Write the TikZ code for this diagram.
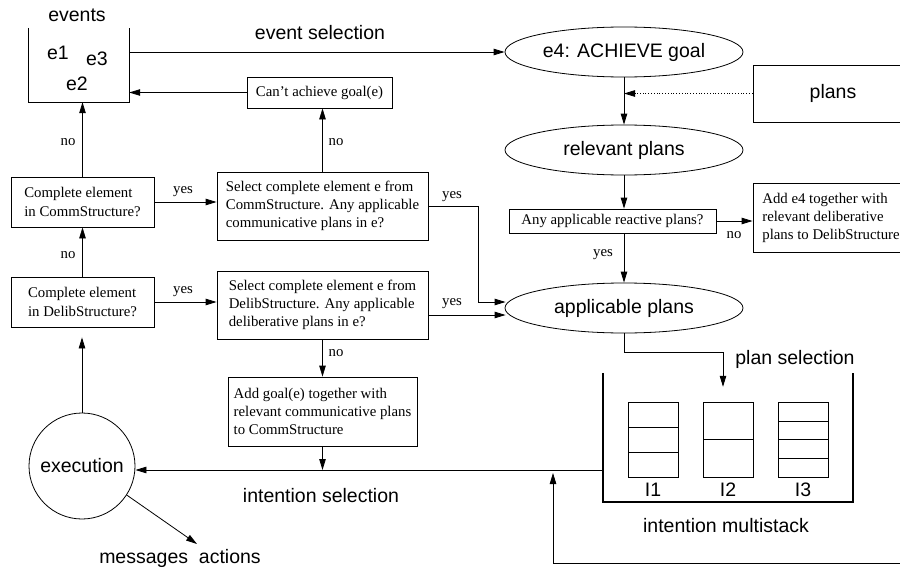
\documentclass[tikz,border=0pt]{standalone}
\usepackage{fontspec}
\setmainfont{Liberation Serif}
\newfontfamily\sff{Liberation Sans}
\usetikzlibrary{arrows.meta,shapes.geometric}
\begin{document}
\begin{tikzpicture}[x=1pt,y=-1pt,
  >={Triangle[length=11pt,width=6.5pt]},
  box/.style={draw, line width=0.8pt, inner sep=0pt, align=left,
    font=\fontsize{14.8}{18}\selectfont},
  lbl/.style={inner sep=0pt, font=\fontsize{14.8}{18}\selectfont},
  sans/.style={inner sep=0pt, font=\sff\fontsize{19.5}{23}\selectfont},
  ell/.style={draw, ellipse, line width=0.8pt, minimum width=238pt,
    minimum height=50pt, inner sep=0pt, font=\sff\fontsize{19.5}{23}\selectfont},
  conn/.style={line width=0.8pt, ->},
  wall/.style={line width=2.5pt},
  cell/.style={line width=0.8pt}]
\clip (0,0) rectangle (900,570);
% events container
\node[minimum width=100pt, minimum height=74pt, inner sep=0pt] (ev) at (79,65) {};
\draw[line width=0.8pt] (ev.north west) -- (ev.south west) -- (ev.south east) -- (ev.north east);
\node[sans] (evl) at (77,15) {events};
\node[sans] (e1) at (58,53) {e1};
\node[sans] (e3) at (97,59) {e3};
\node[sans] (e2) at (77,84) {e2};
% ellipses
\node[ell] (e4) at (624,52) {e4: ACHIEVE goal};
\node[ell] (rel) at (624,150) {relevant plans};
\node[ell] (app) at (624,308) {applicable plans};
% boxes
\node[box, minimum width=145pt, minimum height=31pt] (can) at (319.5,92.5) {Can’t achieve goal(e)};
\node[box, minimum width=211pt, minimum height=68pt] (selComm) at (322.5,206)
  {Select complete element e from\\CommStructure. Any applicable\\communicative plans in e?};
\node[box, minimum width=211pt, minimum height=68pt] (selDelib) at (322.5,305)
  {Select complete element e from\\DelibStructure. Any applicable\\deliberative plans in e?};
\node[box, minimum width=143pt, minimum height=50pt, font=\fontsize{14.8}{18.5}\selectfont] (compComm) at (82.5,202)
  {Complete element\\in CommStructure?};
\node[box, minimum width=143pt, minimum height=50pt, font=\fontsize{14.8}{18.5}\selectfont] (compDelib) at (82.5,302)
  {Complete element\\in DelibStructure?};
\node[box, minimum width=189pt, minimum height=69pt] (addGoal) at (322.5,411.5)
  {Add goal(e) together with\\relevant communicative plans\\to CommStructure};
\node[box, minimum width=207pt, minimum height=24pt] (anyApp) at (612.5,221) {Any applicable reactive plans?};
\node[box, minimum width=156pt, minimum height=69pt] (addE4) at (831,217.5)
  {Add e4 together with\\relevant deliberative\\plans to DelibStructure};
\node[draw, line width=0.8pt, minimum width=160pt, minimum height=57pt, inner sep=0pt,
  font=\sff\fontsize{19.5}{23}\selectfont] (plans) at (833,93.5) {plans};
% execution
\node[draw, circle, line width=0.8pt, minimum size=106pt, inner sep=0pt,
  font=\sff\fontsize{19.5}{23}\selectfont] (exec) at (82,466) {execution};
% intention multistack
\node[minimum width=250pt, minimum height=129pt, inner sep=0pt] (stack) at (728,437.5) {};
\draw[wall] (stack.north west) -- (stack.south west) -- (stack.south east) -- (stack.north east);
\draw[cell] (628,402) rectangle (678,477) (628,427) -- (678,427) (628,452) -- (678,452);
\draw[cell] (703,402) rectangle (753,477) (703,439.5) -- (753,439.5);
\draw[cell] (778,402) rectangle (828,477) (778,421) -- (828,421) (778,439.5) -- (828,439.5) (778,458) -- (828,458);
\node[sans] (i1) at (653,490) {I1};
\node[sans] (i2) at (728,490) {I2};
\node[sans] (i3) at (803,490) {I3};
\node[sans] (ims) at (726,526) {intention multistack};
% coordinates
\coordinate (il) at (603,470);
\coordinate (fb) at (905,563);
\coordinate (fbtip) at (553,473);
\coordinate (msg) at (197,544);
% connectors
\draw[conn] (ev.east |- e4) -- (e4);
\node[sans] (evsel) at (320,33) {event selection};
\draw[conn] (e4.south) -- (rel.north);
\draw[conn, dotted] (plans.west) -- (plans.west -| e4.south);
\draw[conn] (rel.south) -- (rel.south |- anyApp.north);
\draw[conn] (anyApp.east) -- (anyApp.east -| addE4.west);
\node[lbl] (no5) at (734,235) {no};
\draw[conn] (rel.south |- anyApp.south) -- (app.north);
\node[lbl] (yes5) at (603,255) {yes};
\draw[conn] (can.west) -- (can.west -| ev.east);
\draw[conn] (selComm.north) -- (selComm.north |- can.south);
\node[lbl] (no3) at (336,142) {no};
\draw[conn] (compComm.north) -- (ev.south -| compComm.north);
\node[lbl] (no1) at (68,142) {no};
\draw[conn] (compDelib.north) -- (compComm.south);
\node[lbl] (no2) at (68,255) {no};
\draw[conn] (compComm.east) -- (compComm.east -| selComm.west);
\node[lbl] (yes1) at (183,192) {yes};
\draw[conn] (compDelib.east) -- (compDelib.east -| selDelib.west);
\node[lbl] (yes2) at (183,292) {yes};
\draw[conn] (selComm.east) -- ++(50,0) |- ([yshift=6pt,xshift=1pt]app.west);
\node[lbl] (yes3) at (452,197) {yes};
\draw[conn] ([yshift=-10pt]selDelib.east) -- ([yshift=-10pt,xshift=1pt]selDelib.east -| app.west);
\node[lbl] (yes4) at (452,304) {yes};
\draw[conn] (selDelib.south) -- (addGoal.north);
\node[lbl] (no4) at (336,353) {no};
\draw[conn, shorten >=10pt] (exec.north) -- (exec.north |- compDelib.south);
\draw[conn] (addGoal.south) -- (addGoal.south |- il);
\draw[conn] (il) -- (il -| exec.east);
\node[sans] (isel) at (321,496) {intention selection};
\draw[conn] (app.south) -- ++(0,19) -| ([xshift=-5pt,yshift=-14pt]stack.north);
\node[sans] (psel) at (795,359) {plan selection};
\draw[conn] (fb) -| (fbtip);
\draw[conn] (exec.-33) -- (msg);
\node[sans] (ma) at (180,558) {messages\ \ actions};
\end{tikzpicture}
\end{document}
